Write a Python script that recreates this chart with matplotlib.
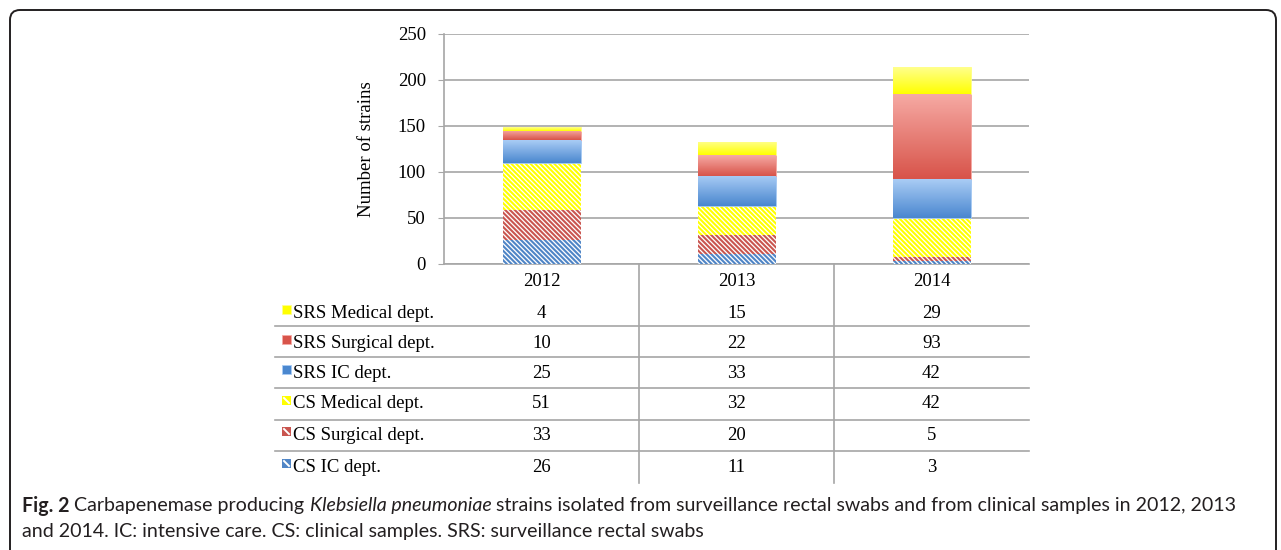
import numpy as np
import matplotlib.pyplot as plt
import matplotlib.transforms as mtransforms
from matplotlib.colors import LinearSegmentedColormap
from matplotlib.patches import Rectangle, FancyBboxPatch
from matplotlib.lines import Line2D

years = ["2012", "2013", "2014"]

# values per series (bottom of the stack first)
cs_ic = [26, 11, 3]
cs_surgical = [33, 20, 5]
cs_medical = [51, 32, 42]
srs_ic = [25, 33, 42]
srs_surgical = [10, 22, 93]
srs_medical = [4, 15, 29]

series_names = ["CS IC dept.", "CS Surgical dept.", "CS Medical dept.",
                "SRS IC dept.", "SRS Surgical dept.", "SRS Medical dept."]
series_values = [cs_ic, cs_surgical, cs_medical, srs_ic, srs_surgical, srs_medical]

# style: hatched (stripe colour) or gradient (top colour, bottom colour)
styles = [
    ("hatch", "#4F85C6"),
    ("hatch", "#C9554F"),
    ("hatch", "#FFFF00"),
    ("grad", ("#A9CCF5", "#4A87CF")),
    ("grad", ("#F6AAA4", "#D8544A")),
    ("grad", ("#FFFF8C", "#FFFF00")),
]

W, H = 1281, 550
serif = "Liberation Serif"
grey = "#A6A6A6"
fs = 13.5

plt.rcParams["hatch.linewidth"] = 1.5


def fx(px):
    return px / W


def fy(py):
    return 1 - py / H


fig = plt.figure(figsize=(W / 100, H / 100), dpi=100)
ax = fig.add_axes([fx(444), fy(264), (1029 - 444) / W, 230 / H])

x = np.arange(len(years))
bottom = np.zeros(len(years))
for vals, st in zip(series_values, styles):
    if st[0] == "hatch":
        ax.bar(x, vals, 0.4, bottom=bottom, facecolor="white", edgecolor=st[1],
               hatch="\\" * 7, linewidth=0, zorder=3)
    else:
        bars = ax.bar(x, vals, 0.4, bottom=bottom, facecolor=st[1][1],
                      edgecolor=st[1][0], linewidth=0.6, zorder=3)
        cmap = LinearSegmentedColormap.from_list("g", [st[1][1], st[1][0]])
        for b in bars:
            im = ax.imshow(np.linspace(0, 1, 64).reshape(-1, 1), cmap=cmap, aspect="auto",
                           extent=[b.get_x(), b.get_x() + b.get_width(),
                                   b.get_y(), b.get_y() + b.get_height()],
                           origin="lower", zorder=3.5)
            im.set_clip_path(b)
    bottom += np.array(vals)

ax.set_xlim(-0.5, 2.5)
ax.set_ylim(0, 250)
ax.set_yticks(range(0, 251, 50))
ax.set_xticks([])
ax.yaxis.grid(True, color=grey, lw=1.2)
ax.set_axisbelow(True)
for s in ["top", "right"]:
    ax.spines[s].set_visible(False)
for s in ["left", "bottom"]:
    ax.spines[s].set_color(grey)
    ax.spines[s].set_linewidth(1.2)
ax.tick_params(axis="y", length=4, color=grey, pad=9, labelsize=fs)
for lab in ax.get_yticklabels():
    lab.set_family(serif)
ax.set_ylabel("Number of strains", fontsize=fs, family=serif)
ax.yaxis.set_label_coords(-0.118, 0.5)

# data table under the chart
trans = mtransforms.blended_transform_factory(ax.transData, fig.transFigure)
for i, yr in enumerate(years):
    ax.text(i, fy(282), yr, transform=trans, ha="center", va="center",
            fontsize=fs, family=serif)

row_y = [313, 343, 373, 404, 435, 467]
sep_y = [326, 357, 388, 420, 451]
for r, y in enumerate(row_y):
    k = len(series_names) - 1 - r
    fig.text(fx(293), fy(y), series_names[k], ha="left", va="center",
             fontsize=fs, family=serif)
    for i, v in enumerate(series_values[k]):
        ax.text(i, fy(y), str(v), transform=trans, ha="center", va="center",
                fontsize=fs, family=serif)
    st = styles[k]
    x0, y0 = fx(282), fy(y + 1)
    if st[0] == "hatch":
        fig.add_artist(Rectangle((x0, y0), 9 / W, 9 / H, transform=fig.transFigure,
                                 facecolor=st[1], linewidth=0))
        fig.add_artist(Line2D([x0 + 2 / W, x0 + 7 / W], [y0 + 7 / H, y0 + 2 / H],
                              transform=fig.transFigure, color="white", lw=1.4))
    else:
        fig.add_artist(Rectangle((x0, y0), 9 / W, 9 / H, transform=fig.transFigure,
                                 facecolor=st[1][1], edgecolor=st[1][0], linewidth=0.6))

for y in sep_y:
    fig.add_artist(Line2D([fx(275), fx(1029)], [fy(y), fy(y)], color=grey, lw=1.2))
for xs in [0.5, 1.5]:
    ax.add_line(Line2D([xs, xs], [fy(264), fy(483)], transform=trans, color=grey,
                       lw=1.2, clip_on=False))

# caption with mixed styles
cap_font = "Lato"
cap_size = 14.1
cap_col = "#231F20"
renderer = fig.canvas.get_renderer()


def text_w(s, **kw):
    t = fig.text(0, 0, s, fontsize=cap_size, family=cap_font, **kw)
    w = t.get_window_extent(renderer).width
    t.remove()
    return w


space = text_w("x x") - text_w("xx")
line1 = [("Fig. 2", {"weight": "bold"}),
         ("Carbapenemase producing", {}),
         ("Klebsiella pneumoniae", {"style": "italic"}),
         ("strains isolated from surveillance rectal swabs and from clinical samples in 2012, 2013", {})]
px = 22
for s, kw in line1:
    t = fig.text(fx(px), fy(506), s, fontsize=cap_size, family=cap_font, color=cap_col,
                 va="center", ha="left", **kw)
    px += t.get_window_extent(renderer).width + space
fig.text(fx(22), fy(532), "and 2014. IC: intensive care. CS: clinical samples. SRS: surveillance rectal swabs",
         fontsize=cap_size, family=cap_font, color=cap_col, va="center", ha="left")

# rounded frame around the figure
frame = FancyBboxPatch((10, -30), 1266, 570, boxstyle="round,pad=0,rounding_size=10",
                       transform=mtransforms.IdentityTransform(), fill=False,
                       edgecolor="#231F20", linewidth=1.4)
fig.add_artist(frame)

fig.savefig("out.png", dpi=100)
